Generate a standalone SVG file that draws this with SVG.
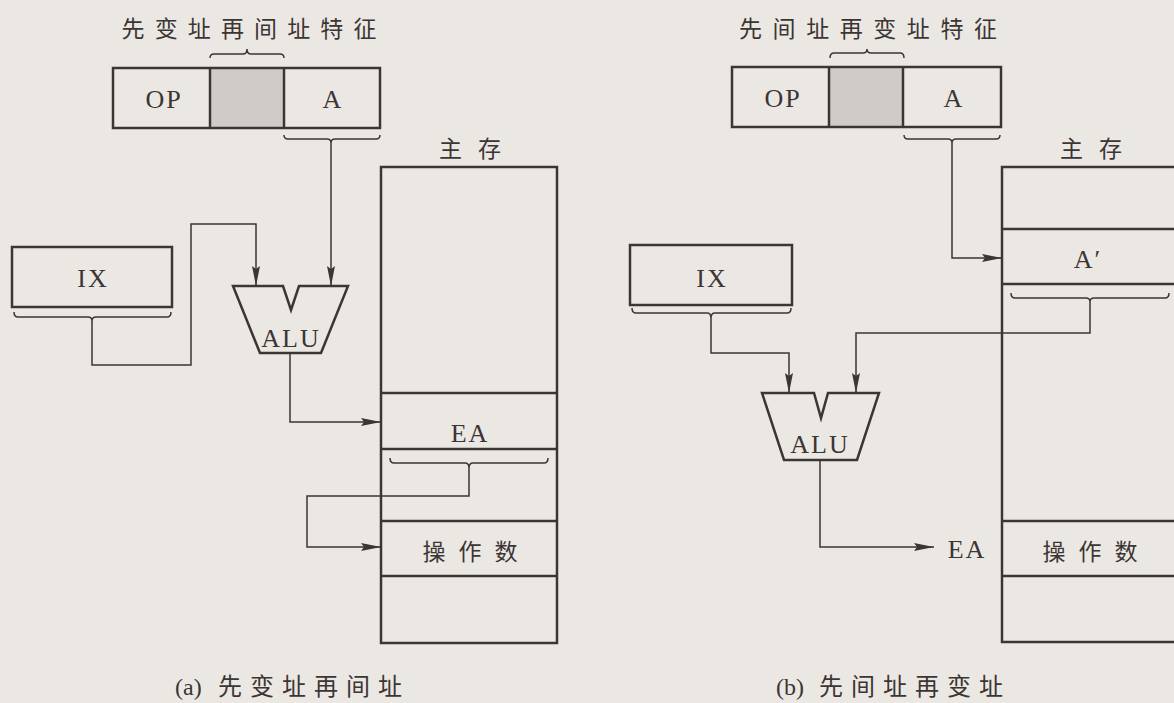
<svg xmlns="http://www.w3.org/2000/svg" width="1174" height="703" viewBox="0 0 1174 703">
<defs>
<style>
.bg{fill:#ebe8e4}
.box{fill:none;stroke:#3b3534;stroke-width:2.5}
.shade{fill:#cfccc8}
.br{fill:none;stroke:#3b3534;stroke-width:1.5}
.con{fill:none;stroke:#3b3534;stroke-width:1.5}
.lat{font-family:"Liberation Serif","Noto Sans CJK SC",serif;font-size:26px;fill:#3b3534;text-anchor:middle;letter-spacing:2px}
.cjk{font-family:"Liberation Serif","Noto Sans CJK SC",serif;font-size:23px;fill:#3b3534;text-anchor:middle}
.cap{font-family:"Liberation Serif","Noto Sans CJK SC",serif;font-size:24px;fill:#3b3534}
</style>
<marker id="arr" markerUnits="userSpaceOnUse" markerWidth="20" markerHeight="8" refX="20" refY="4" orient="auto">
<path d="M0,0 L20,4 L0,8 L3,4 z" fill="#3b3534"/>
</marker>
</defs>
<rect class="bg" x="0" y="0" width="1174" height="703"/>

<!-- Left diagram (a) -->
<g id="title-a">
<text class="cjk" x="249" y="37" font-size="22" textLength="255" lengthAdjust="spacing">先变址再间址特征</text>
</g>
<g id="instr-a">
<rect class="shade" x="210" y="68" width="74" height="60"/>
<rect class="box" x="113" y="68" width="267" height="60"/>
<line class="box" x1="210" y1="68" x2="210" y2="128"/>
<line class="box" x1="284" y1="68" x2="284" y2="128"/>
<text class="lat" x="164" y="108">OP</text>
<text class="lat" x="333" y="108">A</text>
<path class="br" d="M210,58 Q210,54 214,54 L243,54 Q247,54 247,49 Q247,54 251,54 L280,54 Q284,54 284,58"/>
<path class="br" d="M284,135 Q284,139 288,139 L327,139 Q331,139 331,143 Q331,139 335,139 L376,139 Q380,139 380,135"/>
</g>
<g id="ix-a">
<rect class="box" x="12" y="247" width="160" height="60"/>
<text class="lat" x="93" y="287">IX</text>
<path class="br" d="M14,312 Q14,317 18,317 L88,317 Q92,317 92,321 Q92,317 96,317 L167,317 Q171,317 171,312"/>
</g>
<g id="alu-a">
<path class="box" d="M233,286 L283,286 L291,310 L299,286 L348,286 L321,353 L260,353 Z"/>
<text class="lat" x="291" y="347" letter-spacing="0">ALU</text>
</g>
<g id="mem-a">
<text class="cjk" x="470" y="157" font-size="24" textLength="62" lengthAdjust="spacing">主存</text>
<rect class="box" x="381" y="167" width="176" height="476"/>
<line class="box" x1="381" y1="393" x2="557" y2="393"/>
<line class="box" x1="381" y1="449" x2="557" y2="449"/>
<line class="box" x1="381" y1="521" x2="557" y2="521"/>
<line class="box" x1="381" y1="576" x2="557" y2="576"/>
<text class="lat" x="470" y="442">EA</text>
<text class="cjk" x="470" y="560" font-size="24" textLength="95" lengthAdjust="spacing">操作数</text>
<path class="br" d="M390,458 Q390,463 394,463 L465,463 Q469,463 469,468 Q469,463 473,463 L544,463 Q548,463 548,458"/>
</g>
<g id="caption-a">
<text class="cap" x="175" y="695">(a)<tspan x="218" letter-spacing="8">先变址再间址</tspan></text>
</g>

<!-- Right diagram (b) -->
<g id="title-b">
<text class="cjk" x="868" y="37" font-size="22" textLength="258" lengthAdjust="spacing">先间址再变址特征</text>
</g>
<g id="instr-b">
<rect class="shade" x="829" y="67" width="74" height="60"/>
<rect class="box" x="732" y="67" width="269" height="60"/>
<line class="box" x1="829" y1="67" x2="829" y2="127"/>
<line class="box" x1="903" y1="67" x2="903" y2="127"/>
<text class="lat" x="783" y="107">OP</text>
<text class="lat" x="954" y="107">A</text>
<path class="br" d="M830,58 Q830,53 834,53 L863,53 Q867,53 867,49 Q867,53 871,53 L900,53 Q904,53 904,58"/>
<path class="br" d="M904,135 Q904,139 908,139 L948,139 Q952,139 952,143 Q952,139 956,139 L996,139 Q1000,139 1000,135"/>
</g>
<g id="ix-b">
<rect class="box" x="630" y="245" width="162" height="60"/>
<text class="lat" x="712" y="287">IX</text>
<path class="br" d="M632,308 Q632,313 636,313 L707,313 Q711,313 711,318 Q711,313 715,313 L787,313 Q791,313 791,308"/>
</g>
<g id="alu-b">
<path class="box" d="M762,393 L814,393 L821,418 L828,393 L879,393 L857,460 L784,460 Z"/>
<text class="lat" x="820" y="453" letter-spacing="0">ALU</text>
</g>
<g id="mem-b">
<text class="cjk" x="1091" y="157" font-size="24" textLength="62" lengthAdjust="spacing">主存</text>
<rect class="box" x="1002" y="167" width="190" height="475"/>
<line class="box" x1="1002" y1="229" x2="1174" y2="229"/>
<line class="box" x1="1002" y1="284" x2="1174" y2="284"/>
<line class="box" x1="1002" y1="521" x2="1174" y2="521"/>
<line class="box" x1="1002" y1="576" x2="1174" y2="576"/>
<text class="lat" x="1088" y="268">A′</text>
<text class="cjk" x="1090" y="560" font-size="24" textLength="95" lengthAdjust="spacing">操作数</text>
<path class="br" d="M1011,293 Q1011,298 1015,298 L1086,298 Q1090,298 1090,302 Q1090,298 1094,298 L1165,298 Q1169,298 1169,293"/>
</g>
<g id="ea-b">
<text class="lat" x="967" y="558">EA</text>
</g>
<g id="caption-b">
<text class="cap" x="776" y="695">(b)<tspan x="819" letter-spacing="8">先间址再变址</tspan></text>
</g>

<g id="connectors">
<path class="con" d="M331,143 L331,286" marker-end="url(#arr)"/>
<path class="con" d="M92,321 L92,365 L191,365 L191,224 L256,224 L256,286" marker-end="url(#arr)"/>
<path class="con" d="M290,353 L290,422 L381,422" marker-end="url(#arr)"/>
<path class="con" d="M469,468 L469,496 L307,496 L307,547 L381,547" marker-end="url(#arr)"/>
<path class="con" d="M952,143 L952,258 L1002,258" marker-end="url(#arr)"/>
<path class="con" d="M1090,302 L1090,333 L856,333 L856,393" marker-end="url(#arr)"/>
<path class="con" d="M711,318 L711,353 L789,353 L789,393" marker-end="url(#arr)"/>
<path class="con" d="M820,460 L820,547 L934,547" marker-end="url(#arr)"/>
</g>
</svg>
